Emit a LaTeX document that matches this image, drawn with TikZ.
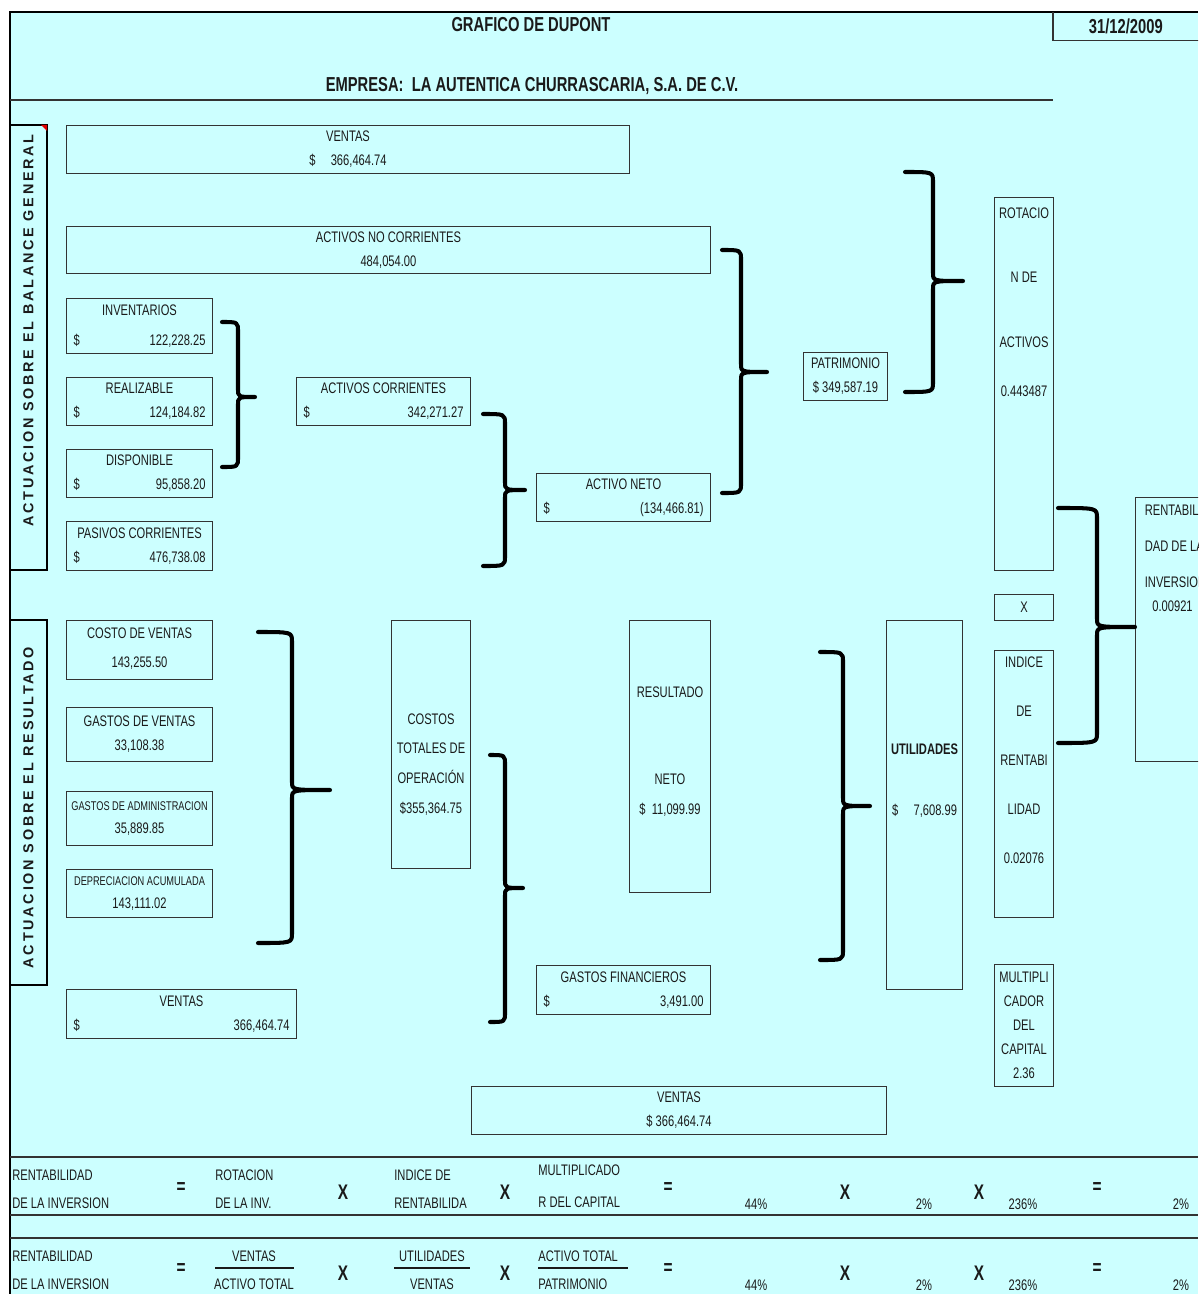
\documentclass[tikz,border=0pt]{standalone}
\usepackage{fontspec}
\setmainfont[FakeStretch=0.73]{Liberation Sans}
\newfontfamily\sidefont[LetterSpace=19]{Liberation Sans}
\usetikzlibrary{calc}
\definecolor{dpCyan}{HTML}{CCFFFF}
\definecolor{dpInk}{HTML}{1A1A1A}
\definecolor{dpLine}{HTML}{333333}
\definecolor{dpFlag}{HTML}{E00000}
\newcommand\dpfont{\fontsize{8.7}{13.6}\selectfont}
\newcommand\dpsmall{\fontsize{7.2}{13.6}\selectfont}
\newcommand\dpbig{\fontsize{11.5}{14}\selectfont\bfseries}
\newcommand\dpsym{\fontsize{12}{14}\selectfont\bfseries}
\newcommand\dpside{\sidefont\fontsize{8.2}{9}\bfseries\selectfont}
\newcommand\dpline[2]{\makebox[#1]{\$\hfill #2}}
% curly bracket: start x, spine x, top y, tip y, bottom y, tip x
\newcommand\dpbrace[6]{%
  \draw[brace] (#1,#3) .. controls (#2,#3) .. (#2,#3+10) -- (#2,#4-8)
    .. controls (#2,#4) .. (#6,#4) .. controls (#2,#4) .. (#2,#4+8)
    -- (#2,#5-10) .. controls (#2,#5) .. (#1,#5);}
\tikzset{
  every node/.style={font=\dpfont, text=dpInk},
  box/.style={draw=dpLine, line width=0.6pt, anchor=north west,
    inner xsep=0.04cm, inner ysep=0pt, align=center},
  cell/.style 2 args={minimum width=#1, minimum height=#2},
  side/.style={draw=black, line width=1.5pt, inner sep=0pt, font=\dpside,
    rotate=90, minimum height=0.74cm},
  frame/.style={draw=black, line width=1.7pt},
  rule/.style={draw=dpLine, line width=0.9pt},
  fracline/.style={draw=dpInk, line width=0.6pt},
  brace/.style={draw=black, line width=2.3pt, line cap=round, line join=round},
  tlabel/.style={anchor=west, inner sep=0pt},
  tvalue/.style={anchor=center, inner sep=0pt},
  op/.style={anchor=center, inner sep=0pt, font=\dpsym},
  title/.style={font=\dpbig, inner sep=0pt}
}
\begin{document}
\begin{tikzpicture}[x=0.02cm, y=-0.02cm]
  \useasboundingbox (0,0) rectangle (1198,1294);
  \clip (0,0) rectangle (1198,1294);
  \fill[white] (0,0) rectangle (1198,1294);
  \fill[dpCyan] (10,12) rectangle (1198,1294);
  \draw[frame] (10,1294) -- (10,12) -- (1198,12);

  % header
  \node[title] (ttl) at (531,25) {GRAFICO DE DUPONT};
  \node[title] (firm) at (532,86) {EMPRESA:\ \ LA AUTENTICA CHURRASCARIA, S.A. DE C.V.};
  \draw[rule] (10,100) -- (1053,100);
  \node[title, anchor=north west, minimum width=2.9cm, minimum height=0.56cm] (fecha) at (1053,12) {31/12/2009};
  \draw[rule] (fecha.north west) -- (fecha.south west) -- (fecha.south east);

  % side captions
  \node[side, minimum width=8.9cm] (sideBal) at (28.5,347.5) {\hspace*{0.68cm}ACTUACION SOBRE EL BALANCE GENERAL};
  \fill[dpFlag] (41,125) -- (47,125) -- (47,131) -- cycle;
  \node[side, minimum width=7.3cm] (sideRes) at (28.5,802.5) {ACTUACION SOBRE EL RESULTADO\hspace*{0.2cm}};

  % balance general
  \node[box, cell={11.26cm}{0.96cm}] (ventasA) at (66,125) {VENTAS\\ \$\quad 366,464.74};
  \node[box, cell={12.88cm}{0.94cm}] (noCorr) at (66,226) {ACTIVOS NO CORRIENTES\\ 484,054.00};
  \node[box, cell={2.92cm}{1.10cm}] (invent) at (66,298) {INVENTARIOS\\[0.12cm] \dpline{2.64cm}{122,228.25}};
  \node[box, cell={2.92cm}{0.96cm}] (realiz) at (66,377) {REALIZABLE\\ \dpline{2.64cm}{124,184.82}};
  \node[box, cell={2.92cm}{0.96cm}] (dispon) at (66,449) {DISPONIBLE\\ \dpline{2.64cm}{95,858.20}};
  \node[box, cell={2.92cm}{0.98cm}] (pasivo) at (66,521) {PASIVOS CORRIENTES\\ \dpline{2.64cm}{476,738.08}};
  \node[box, cell={3.48cm}{0.96cm}] (actCorr) at (296,377) {ACTIVOS CORRIENTES\\ \dpline{3.2cm}{342,271.27}};
  \node[box, cell={3.48cm}{0.96cm}] (actNeto) at (536,473) {ACTIVO NETO\\ \dpline{3.2cm}{(134,466.81)}};
  \node[box, cell={1.68cm}{0.96cm}] (patrim) at (803,352) {PATRIMONIO\\ \$ 349,587.19};

  % ratios column
  \node[box, cell={1.18cm}{7.46cm}] (rotac) at (994,197) {ROTACIO\\[0.8cm] N DE\\[0.82cm] ACTIVOS\\[0.5cm] 0.443487\\[2.8cm] \mbox{}};
  \node[box, cell={1.18cm}{0.52cm}] (times) at (994,594) {X};
  \node[box, cell={1.18cm}{5.34cm}] (indice) at (994,650) {INDICE\\[0.5cm] DE\\[0.5cm] RENTABI\\[0.5cm] LIDAD\\[0.5cm] 0.02076\\[0.48cm] \mbox{}};
  \node[box, cell={1.18cm}{2.44cm}] (multip) at (994,964) {MULTIPLI\\ CADOR\\ DEL\\ CAPITAL\\ 2.36};
  \node[box, cell={1.6cm}{5.28cm}, align=left] (rentab) at (1135,497) {RENTABIL\\[0.24cm] DAD DE LA\\[0.24cm] INVERSION\\ \hspace*{0.15cm}0.00921\\[2.36cm] \mbox{}};

  % estado de resultados
  \node[box, cell={2.92cm}{1.18cm}] (costoV) at (66,620) {\mbox{}\\[-0.32cm] COSTO DE VENTAS\\[0.1cm] 143,255.50};
  \node[box, cell={2.92cm}{1.08cm}] (gastoV) at (66,707) {GASTOS DE VENTAS\\ 33,108.38};
  \node[box, cell={2.92cm}{1.08cm}] (gastoA) at (66,791) {{\dpsmall GASTOS DE ADMINISTRACION}\\ 35,889.85};
  \node[box, cell={2.92cm}{0.96cm}] (deprec) at (66,869) {{\dpsmall DEPRECIACION ACUMULADA}\\ 143,111.02};
  \node[box, cell={4.6cm}{0.98cm}] (ventasB) at (66,989) {VENTAS\\ \dpline{4.32cm}{366,464.74}};
  \node[box, cell={1.58cm}{4.96cm}] (costoT) at (391,620) {\mbox{}\\[0.54cm] COSTOS\\[0.1cm] TOTALES DE\\[0.12cm] OPERACIÓN\\[0.12cm] \$355,364.75};
  \node[box, cell={1.62cm}{5.44cm}] (resNeto) at (629,620) {RESULTADO\\[1.28cm] NETO\\[0.12cm] \$\ \ 11,099.99\\[-0.24cm] \mbox{}};
  \node[box, cell={3.48cm}{0.98cm}] (gastoF) at (536,965) {GASTOS FINANCIEROS\\ \dpline{3.2cm}{3,491.00}};
  \node[box, cell={8.3cm}{0.96cm}] (ventasC) at (471,1086) {VENTAS\\ \$ 366,464.74};
  \node[box, cell={1.52cm}{7.38cm}] (utilid) at (886,620) {\textbf{UTILIDADES}\\[0.74cm] \$\quad 7,608.99\\[0.52cm] \mbox{}};

  % brackets
  \dpbrace{222}{238}{322}{397}{467}{255}
  \dpbrace{483}{505}{414}{490}{566}{525}
  \dpbrace{722}{741}{250}{372}{493}{767}
  \dpbrace{905}{933}{172}{281}{392}{963}
  \dpbrace{1058}{1097}{508}{627}{743}{1135}
  \dpbrace{258}{292}{632}{790}{943}{330}
  \dpbrace{490}{505}{755}{888}{1022}{523}
  \dpbrace{820}{843}{652}{806}{960}{870}

  % summary table
  \foreach \yy in {1157,1215,1238} \draw[rule] (10,\yy) -- (1198,\yy);
  \foreach \dy/\rw in {0/a,81/b}{
    \node[tlabel] (rent1\rw) at (12,1175+\dy) {RENTABILIDAD};
    \node[tlabel] (rent2\rw) at (12,1203+\dy) {DE LA INVERSION};
    \node[op] (eqA\rw) at (181,1188+\dy) {=};
    \node[op] (xA\rw) at (343,1192+\dy) {X};
    \node[op] (xB\rw) at (505,1192+\dy) {X};
    \node[op] (eqB\rw) at (668,1188+\dy) {=};
    \node[tvalue] (pctA\rw) at (756,1204+\dy) {44\%};
    \node[op] (xC\rw) at (845,1192+\dy) {X};
    \node[tvalue] (pctB\rw) at (924,1204+\dy) {2\%};
    \node[op] (xD\rw) at (979,1192+\dy) {X};
    \node[tvalue] (pctC\rw) at (1023,1204+\dy) {236\%};
    \node[op] (eqC\rw) at (1097,1188+\dy) {=};
    \node[tvalue] (pctD\rw) at (1181,1204+\dy) {2\%};
  }
  \node[tlabel] (rotInv1) at (215,1175) {ROTACION};
  \node[tlabel] (rotInv2) at (215,1203) {DE LA INV.};
  \node[tlabel] (indRen1) at (394,1175) {INDICE DE};
  \node[tlabel] (indRen2) at (394,1203) {RENTABILIDA};
  \node[tlabel] (mulCap1) at (538,1170) {MULTIPLICADO};
  \node[tlabel] (mulCap2) at (538,1202) {R DEL CAPITAL};

  \node[tvalue] (fracA1) at (254,1256) {VENTAS};
  \node[tvalue] (fracA2) at (254,1284) {ACTIVO TOTAL};
  \draw[fracline] (215,1268) -- (294,1268);
  \node[tvalue] (fracB1) at (432,1256) {UTILIDADES};
  \node[tvalue] (fracB2) at (432,1284) {VENTAS};
  \draw[fracline] (394,1268) -- (470,1268);
  \node[tlabel] (fracC1) at (538,1256) {ACTIVO TOTAL};
  \node[tlabel] (fracC2) at (538,1284) {PATRIMONIO};
  \draw[fracline] (538,1268) -- (628,1268);
\end{tikzpicture}
\end{document}
